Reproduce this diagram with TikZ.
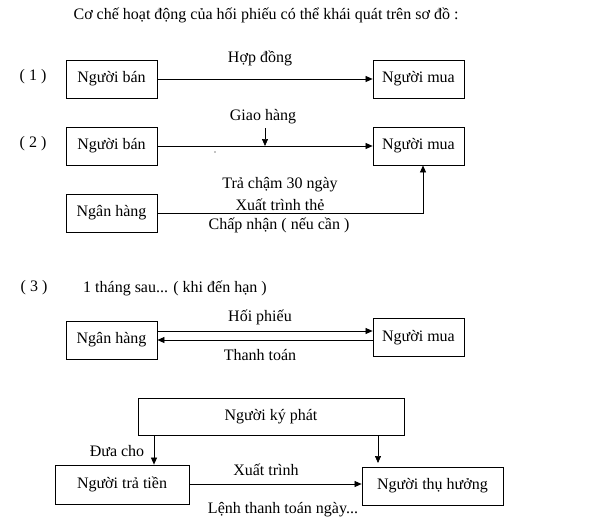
\documentclass[tikz,border=0pt]{standalone}
\usepackage{fontspec}
\setmainfont{Liberation Serif}
\usetikzlibrary{arrows.meta}
\begin{document}
\begin{tikzpicture}[x=1pt,y=-1pt,
  every node/.style={font=\fontsize{16}{19}\selectfont, inner sep=0pt},
  box/.style={draw, line width=0.8pt, minimum height=38pt},
  lbl/.style={anchor=center},
  conn/.style={line width=0.7pt, -{Triangle[length=7pt,width=6pt]}},
  plain/.style={line width=0.7pt}]
\useasboundingbox (0,0) rectangle (605,522);
\node[lbl] (title) at (266,15) {Cơ chế hoạt động của hối phiếu có thể khái quát trên sơ đồ :};
% (1)
\node[lbl] (n1) at (33,77) {( 1 )};
\node[box, minimum width=91pt] (ban1) at (111.5,79) {Người bán};
\node[box, minimum width=91pt] (mua1) at (418.5,79) {Người mua};
\draw[conn] (ban1) -- (mua1);
\node[lbl] (hd) at (260,58) {Hợp đồng};
% (2)
\node[lbl] (n2) at (33,144) {( 2 )};
\node[box, minimum width=91pt] (ban2) at (111.5,146) {Người bán};
\node[box, minimum width=91pt] (mua2) at (418.5,146) {Người mua};
\draw[conn] (ban2) -- (mua2);
\node[lbl] (gh) at (263,117) {Giao hàng};
\coordinate (ghtop) at (265,128);
\coordinate (ghbot) at (265,146);
\draw[conn] (ghtop) -- (ghbot);
\fill (215,152) circle (0.6pt);
\node[box, minimum width=91pt] (nh2) at (111.5,213) {Ngân hàng};
\coordinate (corner) at (423,213);
\draw[conn] (nh2.east) -- (corner) -- (corner |- mua2.south);
\node[lbl] (t1) at (280,185) {Trả chậm 30 ngày};
\node[lbl] (t2) at (280,205) {Xuất trình thẻ};
\node[lbl] (t3) at (279,225) {Chấp nhận ( nếu cần )};
% (3)
\node[lbl] (n3) at (34,288) {( 3 )};
\node[anchor=west] (sau) at (83,288) {1 tháng sau... ( khi đến hạn )};
\node[box, minimum width=91pt] (nh3) at (111.5,340) {Ngân hàng};
\node[box, minimum width=91pt] (mua3) at (418.5,337.5) {Người mua};
\draw[conn] (nh3.east |- 0,331) -- (mua3.west |- 0,331);
\draw[conn] (mua3.west |- 0,340) -- (nh3.east |- 0,340);
\node[lbl] (hp) at (260,317) {Hối phiếu};
\node[lbl] (tt) at (260,355) {Thanh toán};
% bottom
\node[box, minimum width=266pt, minimum height=37pt] (kp) at (271,416.5) {Người ký phát};
\node[box, minimum width=134pt, minimum height=39pt] (tra) at (122,484.5) {Người trả tiền};
\node[box, minimum width=141pt, minimum height=38pt] (th) at (432.5,486) {Người thụ hưởng};
\draw[conn] (kp.south -| 154,0) -- (tra.north -| 154,0);
\coordinate (thtop) at (378,463);
\draw[conn] (kp.south -| thtop) -- (thtop);
\draw[conn] (tra.east |- 0,484) -- (th.west |- 0,484);
\node[lbl] (dc) at (117,451) {Đưa cho};
\node[lbl] (xt) at (266,470) {Xuất trình};
\node[lbl] (lt) at (283,510) {Lệnh thanh toán ngày...};
\end{tikzpicture}
\end{document}
